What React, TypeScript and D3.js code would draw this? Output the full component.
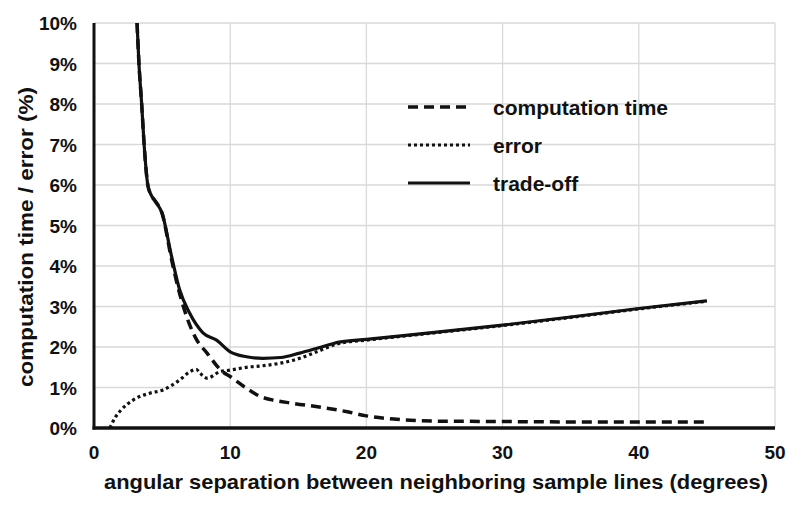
import * as d3 from "d3";

// x: angular separation (degrees), y: percent
const tradeOffX = [3.16, 3.3, 3.5, 3.68, 3.95, 4.2, 4.5, 5.0, 5.7, 6.3, 7.0, 8.0, 9.0, 10, 11.2, 12.4, 13.7, 15.1, 16.5, 18, 20, 25, 30, 35, 40, 45];
const tradeOffY = [10, 9, 8, 7, 6, 5.75, 5.6, 5.3, 4.23, 3.4, 2.85, 2.35, 2.17, 1.88, 1.76, 1.72, 1.74, 1.85, 1.98, 2.12, 2.19, 2.36, 2.54, 2.74, 2.95, 3.14];

const compTimeX = [3.16, 3.3, 3.5, 3.68, 3.95, 4.2, 4.5, 5.0, 5.7, 6.3, 6.7, 7.5, 8.3, 9.4, 10, 11.2, 12.2, 13, 14.6, 17.1, 18.6, 20, 22, 25, 30, 35, 40, 45];
const compTimeY = [10, 9, 8, 7, 6, 5.75, 5.6, 5.3, 4.15, 3.3, 2.85, 2.2, 1.85, 1.4, 1.27, 0.98, 0.78, 0.7, 0.61, 0.49, 0.4, 0.3, 0.22, 0.17, 0.16, 0.15, 0.15, 0.15];

const errorX = [1.17, 1.54, 2.0, 2.87, 4.1, 5.07, 6.3, 7.0, 7.5, 7.8, 8.3, 9.25, 10, 11.45, 12.2, 15.1, 16.5, 18, 20, 25, 30, 35, 40, 45];
const errorY = [0, 0.25, 0.45, 0.69, 0.86, 0.94, 1.19, 1.38, 1.45, 1.35, 1.23, 1.39, 1.43, 1.51, 1.53, 1.72, 1.9, 2.09, 2.17, 2.35, 2.53, 2.73, 2.94, 3.13];

const xTicks = [0, 10, 20, 30, 40, 50];
const yTicks = [0, 1, 2, 3, 4, 5, 6, 7, 8, 9, 10];

const legendItems = ["computation time", "error", "trade-off"];

export default function App() {
  const width = 800;
  const height = 508;
  const margin = { top: 23, left: 94, right: 25, bottom: 80 };
  const font = "'Liberation Sans', Arial, sans-serif";

  const x = d3.scaleLinear().domain([0, 50]).range([margin.left, width - margin.right]);
  const y = d3.scaleLinear().domain([0, 10]).range([height - margin.bottom, margin.top]);

  const line = d3
    .line<[number, number]>()
    .x((d) => x(d[0]))
    .y((d) => y(d[1]))
    .curve(d3.curveMonotoneX);

  const zip = (xs: number[], ys: number[]) => xs.map((v, i) => [v, ys[i]] as [number, number]);

  const series = [
    { data: zip(compTimeX, compTimeY), dash: "10,6", w: 3.5 },
    { data: zip(errorX, errorY), dash: "3,3", w: 3.2 },
    { data: zip(tradeOffX, tradeOffY), dash: null, w: 3.2 },
  ];

  const legendY = [107, 145, 183];

  return (
    <svg
      width={width}
      height={height}
      style={{ position: "absolute", left: 0, top: 0, background: "#fff" }}
      fontFamily={font}
      fontWeight="bold"
    >
      <defs>
        <clipPath id="plot">
          <rect x={margin.left} y={margin.top} width={x(50) - margin.left} height={y(0) - margin.top} />
        </clipPath>
      </defs>

      {/* grid */}
      {yTicks.slice(1).map((t) => (
        <line key={"gy" + t} x1={x(0)} x2={x(50)} y1={y(t)} y2={y(t)} stroke="#d9d9d9" strokeWidth={1.3} />
      ))}
      {xTicks.slice(1).map((t) => (
        <line key={"gx" + t} x1={x(t)} x2={x(t)} y1={y(0)} y2={y(10)} stroke="#d9d9d9" strokeWidth={1.3} />
      ))}

      {/* legend */}
      {legendItems.map((name, i) => (
        <g key={name}>
          <line
            x1={408}
            x2={470}
            y1={legendY[i]}
            y2={legendY[i]}
            stroke="#111"
            strokeWidth={series[i].w}
            strokeDasharray={series[i].dash ?? undefined}
          />
          <text x={493} y={legendY[i] + 7.5} fontSize={21} fill="#111">
            {name}
          </text>
        </g>
      ))}

      {/* series */}
      <g clipPath="url(#plot)">
        {series.map((s, i) => (
          <path
            key={i}
            d={line(s.data) ?? ""}
            fill="none"
            stroke="#111"
            strokeWidth={s.w}
            strokeDasharray={s.dash ?? undefined}
          />
        ))}
      </g>

      {/* axes */}
      <line x1={x(0)} x2={x(0)} y1={y(10)} y2={y(0) + 1.5} stroke="#111" strokeWidth={3} />
      <line x1={x(0) - 1.5} x2={x(50)} y1={y(0)} y2={y(0)} stroke="#111" strokeWidth={3.5} />

      {/* tick labels */}
      {yTicks.map((t) => (
        <text key={"ty" + t} x={77} y={y(t) + 7} textAnchor="end" fontSize={19} fill="#111">
          {t}%
        </text>
      ))}
      {xTicks.map((t) => (
        <text key={"tx" + t} x={x(t)} y={459} textAnchor="middle" fontSize={19} fill="#111">
          {t}
        </text>
      ))}

      {/* axis titles */}
      <text x={436} y={489} textAnchor="middle" fontSize={21} fill="#111" textLength={664} lengthAdjust="spacingAndGlyphs">
        angular separation between neighboring sample lines (degrees)
      </text>
      <text
        transform={`translate(33, 237) rotate(-90)`}
        textAnchor="middle"
        fontSize={21}
        fill="#111"
        textLength={300}
        lengthAdjust="spacingAndGlyphs"
      >
        computation time / error (%)
      </text>
    </svg>
  );
}
